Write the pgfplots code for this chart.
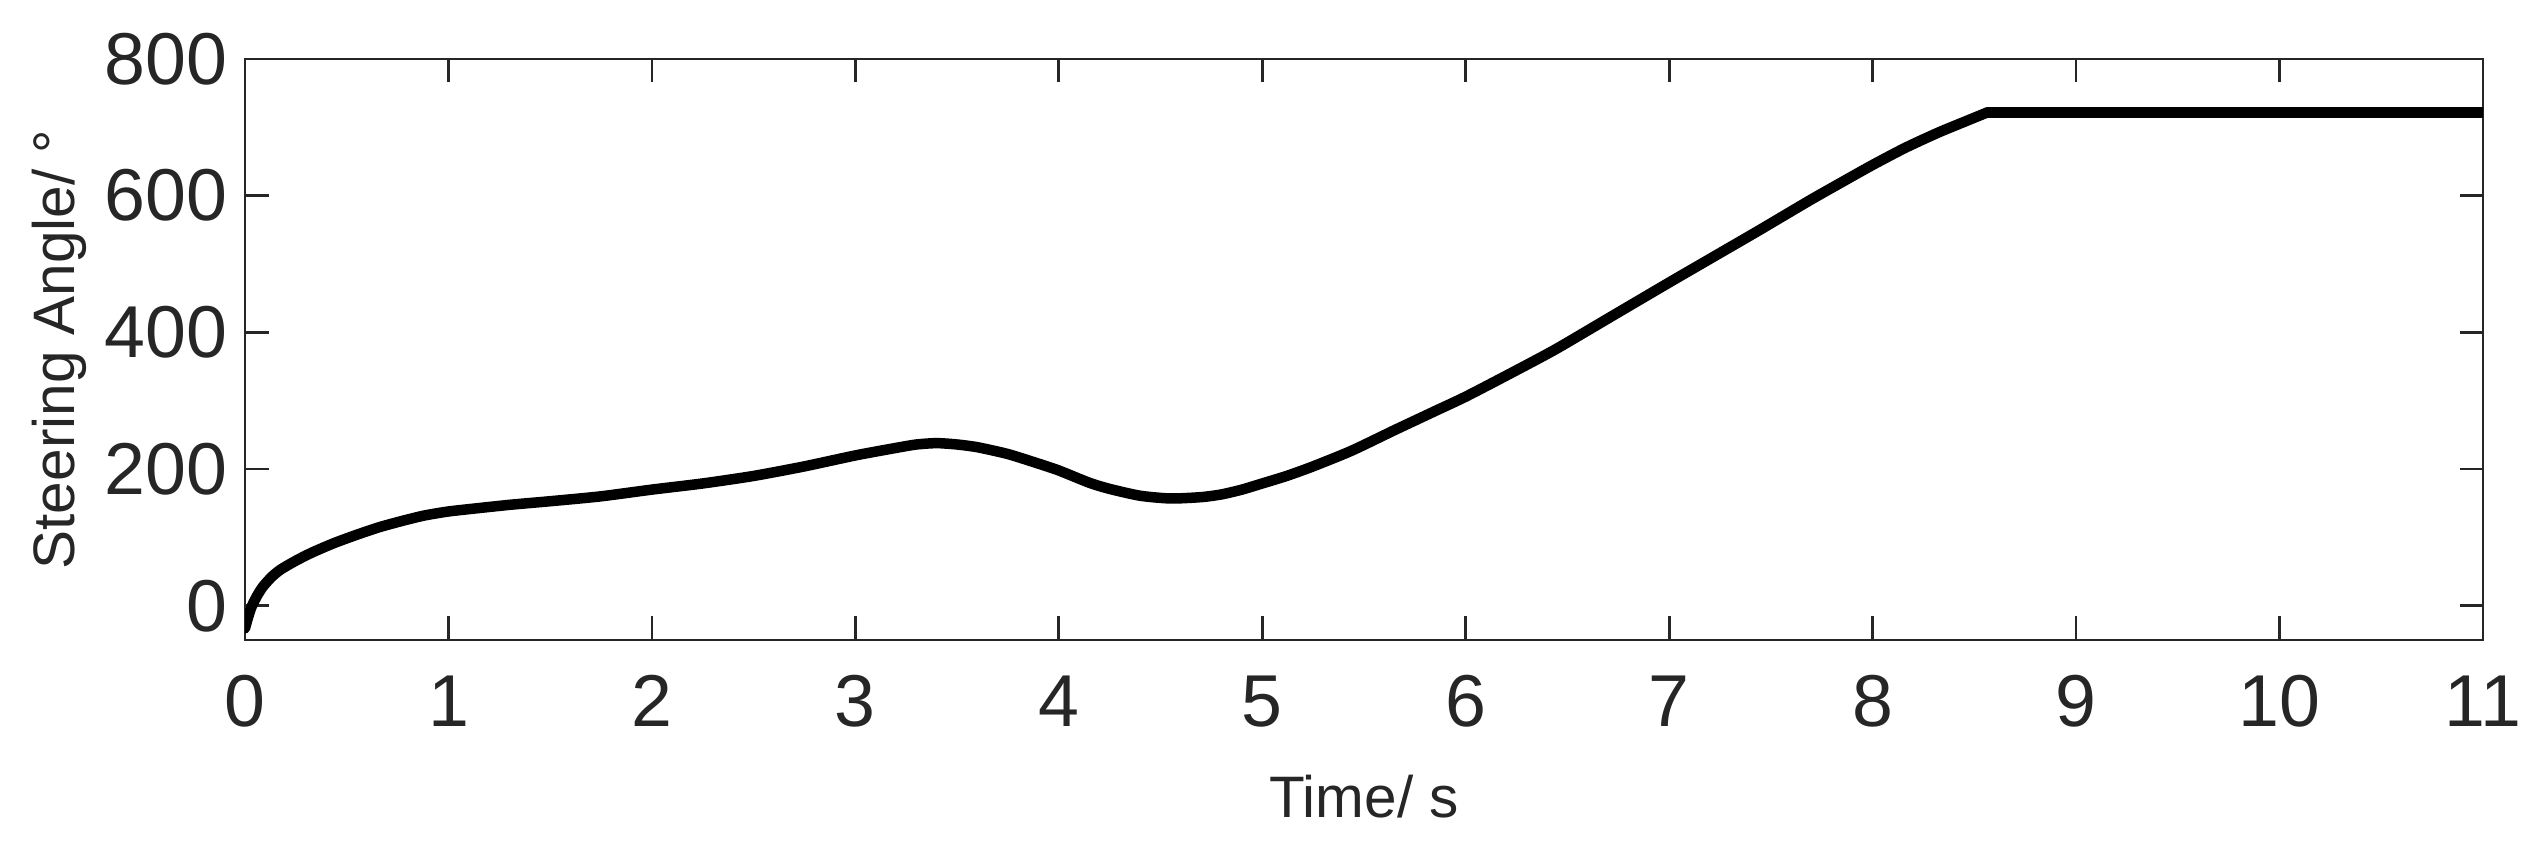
\documentclass[border=0pt]{standalone}
\usepackage{pgfplots}
\pgfplotsset{compat=1.18}
\usepackage{fontspec}
\setmainfont{Liberation Sans}
\definecolor{axc}{HTML}{262626}
\begin{document}
\begin{tikzpicture}
\useasboundingbox (0,0) rectangle (505.6pt,170.2pt);
\begin{axis}[
  at={(49pt,42.2pt)}, anchor=south west,
  scale only axis, width=447.6pt, height=116.2pt,
  xmin=0, xmax=11, ymin=-50, ymax=800,
  xtick={0,1,...,11}, ytick={0,200,400,600,800},
  tick align=inside, major tick length=4.7pt,
  axis line style={axc, line width=0.55pt},
  every tick/.style={axc, line width=0.55pt},
  ticklabel style={font=\fontsize{14.7}{17}\selectfont, text=axc},
  xticklabel style={yshift=-3.6pt},
  /pgf/number format/assume math mode=true,
  /pgf/number format/1000 sep={},
  xlabel={Time/ s}, ylabel={Steering Angle/ °},
  label style={font=\fontsize{11.7}{14}\selectfont, text=axc},
  xlabel style={at={(axis description cs:0.5,0)}, anchor=base, yshift=-35.6pt},
  ylabel style={at={(axis description cs:0,0.5)}, anchor=center, yshift=37.2pt},
]
\addplot[black, line width=2.1pt, line join=round, line cap=round, smooth, tension=0.4] coordinates {
(0,-33) (0.015,-17) (0.033,-1) (0.06,15) (0.088,28) (0.13,42) (0.175,53) (0.25,66)
(0.33,78) (0.44,92) (0.55,104) (0.66,115) (0.77,124) (0.88,132) (1.0,138) (1.15,143)
(1.31,148) (1.5,153) (1.745,160) (2.0,170) (2.25,179) (2.5,190) (2.75,204) (3.0,220)
(3.2,231) (3.3,236) (3.4,238) (3.5,236) (3.6,232) (3.75,222) (3.9,208) (4.0,198)
(4.15,180) (4.25,171) (4.4,161) (4.55,157) (4.7,159) (4.8,163) (4.9,170) (5.0,179)
(5.12,190) (5.25,204) (5.44,227) (5.65,257) (5.85,285) (6.0,306) (6.22,340)
(6.44,375) (6.72,424) (7.0,473) (7.22,511) (7.44,549) (7.69,593) (7.85,620)
(8.0,645) (8.16,670) (8.32,692) (8.45,708) (8.565,722)
};
\addplot[black, line width=2.1pt, line cap=round] coordinates {(8.565,722) (11,722)};
\end{axis}
\end{tikzpicture}
\end{document}
